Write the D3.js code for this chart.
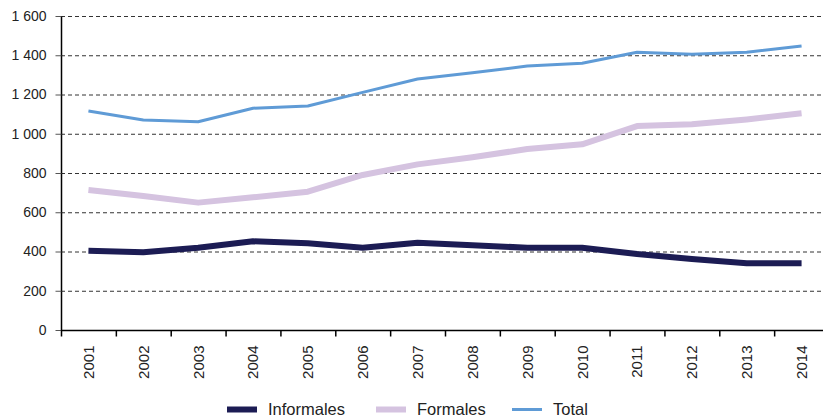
<!DOCTYPE html>
<html>
<head>
<meta charset="utf-8">
<script src="https://cdn.jsdelivr.net/npm/d3@7"></script>
<style>
  html, body { margin: 0; padding: 0; background: #fff; }
  svg { display: block; font-family: "Liberation Sans", Arial, sans-serif; }
</style>
</head>
<body>
<svg id="chart" width="823" height="419"></svg>
<script>
const years = ["2001","2002","2003","2004","2005","2006","2007","2008","2009","2010","2011","2012","2013","2014"];
const informales = [404, 396, 419, 452, 442, 419, 445, 432, 419, 419, 387, 362, 340, 340];
const formales   = [713, 683, 649, 676, 705, 790, 844, 880, 922, 946, 1039, 1048, 1073, 1104];
const total      = [1116, 1070, 1061, 1130, 1141, 1211, 1279, 1311, 1345, 1359, 1415, 1405, 1415, 1447];
const yTicks = [0, 200, 400, 600, 800, 1000, 1200, 1400, 1600];
const seriesNames = ["Informales", "Formales", "Total"];
const seriesColors = ["#1c1c54", "#d5c3e0", "#5f9bd6"];
const seriesWidths = [6, 6, 3];

(function () {
const svg = d3.select("#chart");
const mLeft = 61, mRight = 829, mTop = 16, mBottom = 330;

const x = d3.scaleBand().domain(years).range([mLeft, mRight]).padding(0);
const y = d3.scaleLinear().domain([0, 1600]).range([mBottom, mTop]);

const fmt = v => {
  const s = String(v);
  return s.length > 3 ? s.slice(0, s.length - 3) + " " + s.slice(-3) : s;
};

// gridlines
svg.append("g")
  .selectAll("line")
  .data(yTicks.filter(d => d > 0))
  .join("line")
  .attr("x1", mLeft).attr("x2", 823)
  .attr("y1", d => y(d) + 0.5).attr("y2", d => y(d) + 0.5)
  .attr("stroke", "#333").attr("stroke-width", 1)
  .attr("stroke-dasharray", "4,3");

// y axis
const yAxis = d3.axisLeft(y).tickValues(yTicks).tickSize(6).tickPadding(9).tickFormat(fmt);
const gy = svg.append("g").attr("transform", `translate(${mLeft + 0.5},0)`).call(yAxis);
gy.select(".domain").attr("stroke", "#000").attr("stroke-width", 1.5).attr("d", `M0,${mTop}V${mBottom}`);
gy.selectAll(".tick line").attr("stroke", "#555");
gy.selectAll(".tick text").attr("font-size", "14px").attr("fill", "#222");

// x axis
const gx = svg.append("g").attr("transform", `translate(0,${mBottom + 0.5})`);
gx.append("line").attr("x1", mLeft).attr("x2", mRight).attr("stroke", "#000").attr("stroke-width", 1.5);
const bounds = years.map(d => x(d)).concat([mRight]);
gx.selectAll("line.tk").data(bounds).join("line").attr("class", "tk")
  .attr("x1", d => d + 0.5).attr("x2", d => d + 0.5)
  .attr("y1", 0).attr("y2", 6)
  .attr("stroke", "#000").attr("stroke-width", 1.5);
gx.selectAll("text").data(years).join("text")
  .attr("transform", d => `translate(${x(d) + x.bandwidth() / 2},15) rotate(-90)`)
  .attr("text-anchor", "end").attr("dy", "0.36em")
  .attr("font-size", "15px").attr("fill", "#222")
  .text(d => d);

// lines
const data = [informales, formales, total];
const line = d3.line()
  .x((d, i) => x(years[i]) + x.bandwidth() / 2)
  .y(d => y(d));
svg.append("g").selectAll("path").data(data).join("path")
  .attr("d", d => line(d))
  .attr("fill", "none")
  .attr("stroke", (d, i) => seriesColors[i])
  .attr("stroke-width", (d, i) => seriesWidths[i])
  .attr("stroke-linejoin", "round");

// legend
const legendX = [227, 376, 512];
const legendY = 409.5;
const lg = svg.append("g").selectAll("g").data(seriesNames).join("g")
  .attr("transform", (d, i) => `translate(${legendX[i]},${legendY})`);
lg.append("line").attr("x1", 0).attr("x2", 30)
  .attr("stroke", (d, i) => seriesColors[i])
  .attr("stroke-width", (d, i) => seriesWidths[i]);
lg.append("text").attr("x", 41).attr("dy", "0.35em")
  .attr("font-size", "16.5px").attr("fill", "#222")
  .text(d => d);
})();
</script>
</body>
</html>
